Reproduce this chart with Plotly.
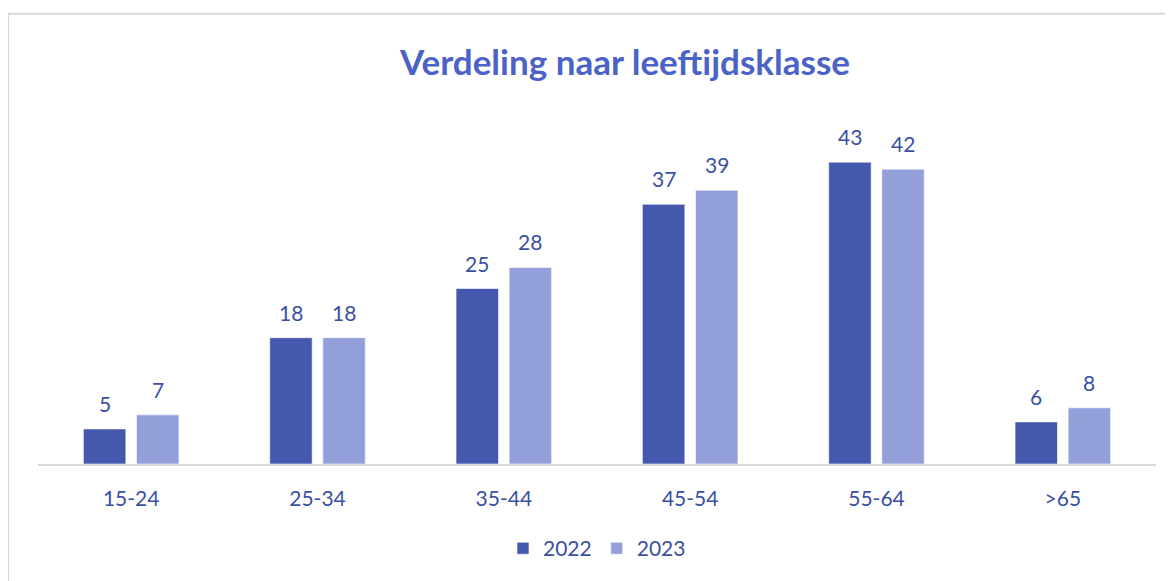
import plotly.graph_objects as go

categories = ["15-24", "25-34", "35-44", "45-54", "55-64", ">65"]
values_2022 = [5, 18, 25, 37, 43, 6]
values_2023 = [7, 18, 28, 39, 42, 8]
series_names = ["2022", "2023"]
title_text = "Verdeling naar leeftijdsklasse"

c2022 = "#4459ad"
c2023 = "#929fd8"
txt = "#3b4fa3"
font_family = "Lato, 'Open Sans', sans-serif"

fig = go.Figure()
for name, vals, col in [(series_names[0], values_2022, c2022), (series_names[1], values_2023, c2023)]:
    fig.add_trace(go.Bar(
        x=categories, y=vals, name=name,
        marker=dict(color=col, line=dict(color="rgba(255,255,255,0.6)", width=1)),
        hoverinfo="x+y+name",
    ))

# value labels above bars
slot = 26.5
for vals, shift in [(values_2022, -slot), (values_2023, slot)]:
    for c, v in zip(categories, vals):
        fig.add_annotation(x=c, y=v, text=str(v), showarrow=False,
                           xshift=shift, yshift=11, yanchor="bottom",
                           font=dict(family=font_family, size=21, color=txt))

fig.add_shape(type="rect", xref="paper", yref="paper",
              x0=-0.0268, x1=1.05, y0=-0.5, y1=1.283,
              line=dict(color="#d9d9d9", width=2), layer="below")

fig.update_layout(
    width=1165, height=573,
    margin=dict(l=30, r=17, t=105, b=114),
    paper_bgcolor="white", plot_bgcolor="white",
    barmode="group", bargap=0.43, bargroupgap=0.2,
    title=dict(text="<b>" + title_text + "</b>", x=0.5296, xanchor="center",
               y=1 - 55 / 573, yanchor="middle",
               font=dict(family=font_family, size=35, color="#4b63c6")),
    font=dict(family=font_family, size=20, color=txt),
    showlegend=True,
    legend=dict(orientation="h", x=0.5, xanchor="center", y=-0.241, yanchor="middle",
                font=dict(family=font_family, size=21, color=txt),
                itemwidth=30, traceorder="normal"),
    xaxis=dict(showline=True, linecolor="#d9d9d9", linewidth=2, ticks="",
               showgrid=False, tickfont=dict(size=21, color=txt),
               ticklabelstandoff=15),
    yaxis=dict(range=[0, 50], visible=False, showgrid=False),
)

fig.write_html("out.html")
